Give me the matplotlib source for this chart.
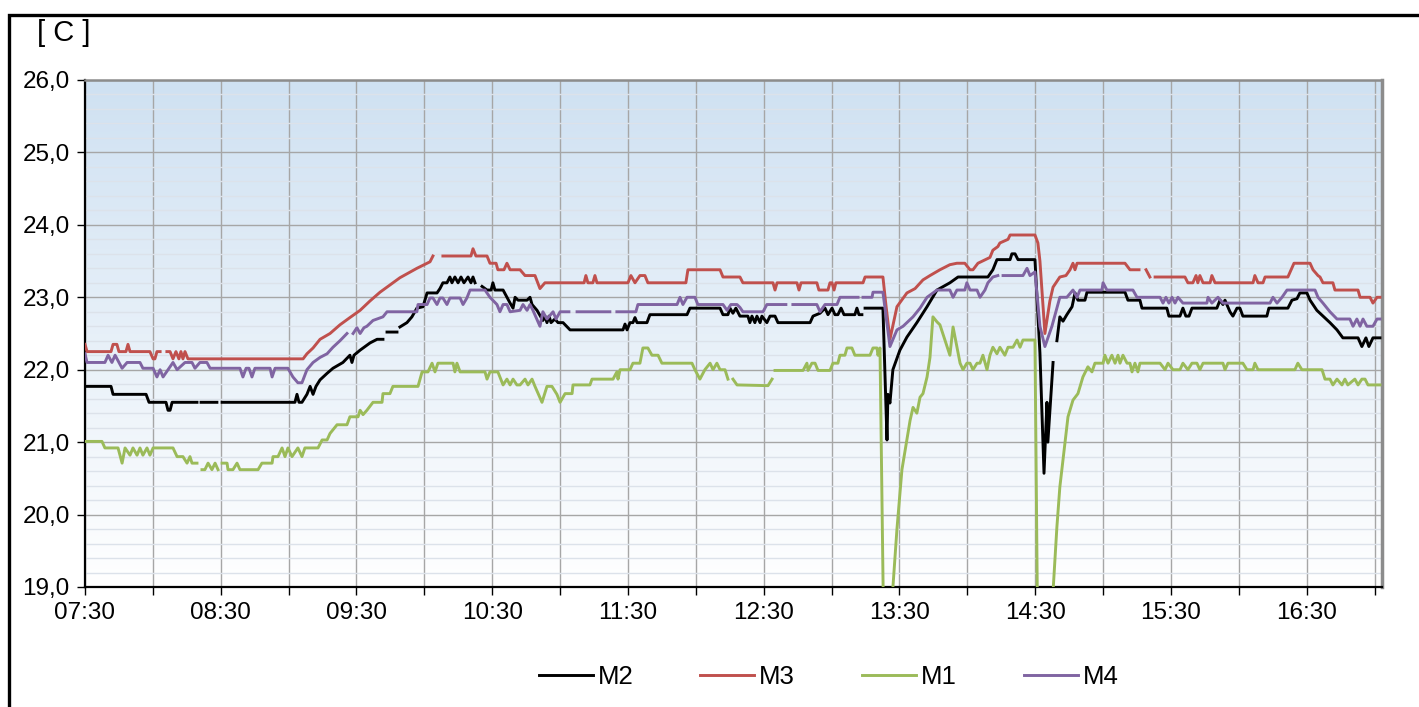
import numpy as np
import pandas as pd
import matplotlib
matplotlib.use("Agg")
import matplotlib.pyplot as plt
import matplotlib.dates as mdates
from matplotlib.ticker import FuncFormatter, MultipleLocator
from matplotlib.colors import LinearSegmentedColormap
from matplotlib.patches import Rectangle

nan = np.nan

# time axis: minutes after 07:30
start = pd.Timestamp("2000-01-01 07:30")
end_min = 573.3

# M2 (black)
m2_min = [0, 11.5, 12.4, 27.0, 28.3, 35.8, 36.7, 37.6, 38.5, 49.5, 50.5, 51.3, 58.3, 59.4, 60.6,
          92.8, 93.7, 94.6, 95.9, 98.1, 99.5, 100.8, 102.1, 103.9, 107.0, 109.6, 114.0, 117.1, 118.0,
          118.9, 121.6, 126.0, 129.1, 131.7, 133.0, 133.5, 137.9, 138.8, 139.2, 142.3, 144.5, 146.7,
          149.4, 151.2, 155.6, 156.9, 158.2, 160.0, 161.3, 162.2, 163.5, 164.9, 166.2, 167.5, 169.3,
          170.6, 171.5, 172.4, 174.5, 175.5, 177.7, 179.5, 180.3, 181.2, 184.8, 186.5, 187.9, 189.2,
          190.1, 191.4, 195.4, 196.7, 197.6, 199.8, 201.1, 202.4, 203.3, 204.2, 205.1, 206.0, 207.7,
          209.1, 211.3, 214.4, 237.8, 238.7, 239.6, 240.9, 242.2, 243.1, 244.0, 248.4, 249.7, 266.1,
          267.4, 280.7, 282.0, 284.2, 285.1, 286.4, 287.7, 289.5, 293.0, 293.9, 294.8, 296.1, 297.0,
          298.4, 299.2, 301.4, 302.8, 305.0, 306.3, 320.5, 321.8, 324.9, 327.1, 328.4, 330.2, 331.5,
          332.8, 334.2, 335.5, 340.3, 341.2, 342.1, 343.4, 344.2, 344.8, 352.7, 354.5, 354.9, 355.8,
          357.1, 360.2, 363.3, 367.7, 372.2, 376.6, 382.3, 385.9, 399.1, 401.3, 403.1, 408.9, 409.7,
          411.1, 412.4, 419.9, 422.1, 423.9, 425.2, 425.6, 427.9, 428.8, 429.6, 430.9, 432.3, 434.0,
          436.3, 437.6, 438.9, 442.0, 442.9, 459.7, 461.0, 466.3, 467.2, 478.2, 479.1, 484.0, 485.3,
          486.6, 488.0, 489.3, 500.3, 501.7, 503.0, 503.9, 506.1, 507.4, 509.2, 510.5, 511.8, 522.4,
          523.3, 531.7, 533.5, 535.7, 537.0, 540.1, 541.5, 544.5, 547.2, 550.3, 553.4, 556.0, 562.7,
          564.4, 566.2, 567.5, 569.3, 572.4]
m2_val = [21.77, 21.77, 21.66, 21.66, 21.55, 21.55, 21.44, 21.44, 21.55, 21.55, nan, 21.55, 21.55, nan, 21.55,
          21.55, 21.66, 21.55, 21.55, 21.66, 21.77, 21.66, 21.77, 21.86, 21.95, 22.02, 22.10, 22.20, 22.10,
          22.20, 22.27, 22.37, 22.42, 22.42, nan, 22.52, 22.52, nan, 22.59, 22.65, 22.73, 22.85,
          22.87, 23.06, 23.06, 23.12, 23.20, 23.20, 23.28, 23.20, 23.28, 23.20, 23.28, 23.20, 23.28,
          23.20, 23.28, 23.20, nan, 23.15, 23.10, 23.10, 23.20, 23.10, 23.10, 23.00, 22.92, 22.85,
          23.00, 22.96, 22.96, 23.00, 22.90, 22.82, 22.75, 22.68, 22.74, 22.65, 22.74, 22.65, 22.70,
          22.65, 22.65, 22.55, 22.55, 22.63, 22.55, 22.65, 22.65, 22.72, 22.65, 22.65, 22.76, 22.76,
          22.85, 22.85, 22.76, 22.76, 22.85, 22.78, 22.85, 22.74, 22.74, 22.65, 22.74, 22.65, 22.74,
          22.65, 22.74, 22.65, 22.74, 22.74, 22.65, 22.65, 22.74, 22.78, 22.85, 22.76, 22.85, 22.76,
          22.76, 22.85, 22.76, 22.76, 22.85, 22.76, 22.76, nan, 22.85, 22.85, 21.03, 21.66, 21.54,
          22.00, 22.27, 22.45, 22.65, 22.87, 23.10, 23.20, 23.28, 23.28, 23.38, 23.52, 23.52, 23.60,
          23.60, 23.52, 23.52, 22.23, 20.57, 21.55, 21.00, 22.10, nan, 22.40, 22.73, 22.67, 22.76,
          22.87, 23.06, 22.96, 22.96, 23.07, 23.07, 22.96, 22.96, 22.85, 22.85, 22.74, 22.74, 22.85,
          22.74, 22.74, 22.85, 22.85, 22.96, 22.90, 22.96, 22.80, 22.74, 22.85, 22.85, 22.74, 22.74,
          22.85, 22.85, 22.96, 22.98, 23.06, 23.06, 22.96, 22.82, 22.74, 22.65, 22.55, 22.44, 22.44,
          22.32, 22.44, 22.32, 22.44, 22.44]

# M3 (red)
m3_min = [0, 0.9, 11.5, 12.4, 14.1, 15.0, 18.1, 19.0, 19.9, 28.7, 30.1, 30.9, 31.8, 33.2, 34.5, 36.2,
          37.6, 38.9, 40.2, 41.5, 42.4, 43.3, 44.2, 45.5, 96.4, 98.1, 100.8, 103.9, 108.3, 112.7, 117.1,
          121.6, 126.0, 130.4, 134.8, 139.2, 146.7, 152.5, 153.8, 156.0, 158.2, 170.6, 171.5, 172.8,
          177.7, 179.0, 181.7, 182.5, 185.2, 186.5, 187.9, 192.3, 194.5, 198.9, 201.1, 203.3, 220.6,
          221.4, 222.3, 224.5, 225.4, 226.3, 240.0, 241.3, 243.1, 245.3, 247.5, 248.8, 265.6, 266.5,
          280.7, 282.0, 289.5, 290.8, 304.1, 305.0, 305.9, 314.7, 315.6, 316.5, 323.5, 324.4, 328.4,
          329.3, 330.2, 331.1, 331.9, 343.9, 344.8, 352.7, 354.0, 355.8, 358.9, 363.3, 366.9, 370.4,
          373.5, 377.9, 382.3, 385.4, 388.9, 391.2, 392.5, 394.7, 400.0, 401.3, 403.5, 404.4, 408.0,
          408.9, 419.9, 421.2, 422.1, 424.3, 426.5, 427.9, 430.9, 433.6, 435.4, 436.7, 437.6, 438.5,
          459.7, 461.9, 465.9, 467.5, 469.0, 470.7, 472.0, 473.0, 486.2, 487.5, 489.7, 491.1, 491.9,
          492.8, 494.2, 497.3, 498.1, 499.5, 516.3, 517.1, 518.5, 520.7, 521.6, 531.7, 533.1, 534.4,
          541.5, 542.8, 545.0, 545.9, 547.2, 551.6, 552.5, 562.7, 563.6, 568.0, 569.3, 571.1, 572.4]
m3_val = [22.35, 22.25, 22.25, 22.35, 22.35, 22.25, 22.25, 22.35, 22.25, 22.25, 22.15, 22.15, 22.25, 22.25, nan, 22.25,
          22.25, 22.15, 22.25, 22.15, 22.25, 22.15, 22.25, 22.15, 22.15, 22.22, 22.30, 22.42, 22.50, 22.62, 22.72,
          22.82, 22.95, 23.07, 23.17, 23.27, 23.40, 23.49, 23.57, nan, 23.57, 23.57, 23.67, 23.57,
          23.57, 23.47, 23.47, 23.38, 23.38, 23.47, 23.38, 23.38, 23.30, 23.30, 23.12, 23.20, 23.20,
          23.30, 23.20, 23.20, 23.30, 23.20, 23.20, 23.30, 23.20, 23.30, 23.30, 23.20, 23.20, 23.38,
          23.38, 23.28, 23.28, 23.20, 23.20, 23.10, 23.20, 23.20, 23.10, 23.20, 23.20, 23.10, 23.10,
          23.20, 23.20, 23.10, 23.20, 23.20, 23.28, 23.28, 22.90, 22.42, 22.87, 23.06, 23.12, 23.24,
          23.30, 23.38, 23.45, 23.47, 23.47, 23.38, 23.38, 23.47, 23.55, 23.65, 23.70, 23.75, 23.80,
          23.86, 23.86, 23.75, 23.50, 22.50, 22.95, 23.14, 23.28, 23.30, 23.38, 23.47, 23.38, 23.47,
          23.47, 23.38, 23.38, nan, 23.38, 23.28, nan, 23.28, 23.28, 23.20, 23.20, 23.30, 23.20,
          23.30, 23.20, 23.20, 23.30, 23.20, 23.20, 23.30, 23.20, 23.20, 23.28, 23.28, 23.38, 23.47,
          23.47, 23.38, 23.30, 23.28, 23.20, 23.20, 23.10, 23.10, 23.00, 23.00, 22.92, 23.00, 23.00]

# M1 (green)
m1_min = [0, 7.5, 8.8, 14.6, 16.4, 17.7, 19.9, 21.2, 23.0, 24.3, 25.6, 27.4, 28.7, 30.1, 38.9, 40.7,
          43.3, 45.1, 46.4, 47.3, 49.5, 50.5, 51.7, 53.0, 54.4, 56.1, 57.5, 58.8, 59.8, 60.6, 62.8,
          63.2, 65.4, 67.2, 68.5, 76.5, 78.2, 82.7, 83.1, 85.3, 87.1, 88.4, 89.7, 91.5, 94.1, 95.9,
          97.2, 103.0, 104.8, 107.0, 108.3, 111.4, 115.8, 117.1, 120.7, 121.6, 122.9, 124.6, 127.3,
          131.3, 131.7, 134.8, 136.1, 147.2, 149.0, 151.6, 153.4, 154.7, 156.0, 162.7, 163.5, 164.4,
          165.8, 176.8, 177.7, 179.0, 182.5, 184.8, 186.5, 187.9, 189.2, 190.9, 192.3, 194.5, 195.8,
          197.6, 198.9, 202.0, 204.2, 206.4, 208.6, 210.0, 212.2, 215.3, 215.7, 223.2, 224.1, 233.4,
          235.1, 235.6, 236.5, 240.9, 242.2, 245.3, 246.6, 248.8, 250.6, 253.3, 255.0, 268.3, 269.6,
          271.8, 274.0, 276.3, 277.6, 279.3, 280.7, 282.9, 284.2, 285.5, 286.4, 288.2, 301.9, 303.7,
          304.5, 305.0, 317.4, 319.1, 319.6, 321.3, 322.7, 324.0, 329.3, 330.6, 332.8, 333.7, 335.9,
          336.8, 339.0, 340.3, 347.0, 348.3, 350.1, 350.5, 351.4, 353.2, 354.9, 358.9, 361.1, 363.3,
          364.7, 366.0, 367.7, 369.1, 370.4, 372.2, 373.5, 374.8, 376.6, 377.9, 382.3, 383.7, 386.8,
          388.1, 389.8, 391.2, 392.5, 394.3, 395.6, 396.9, 398.7, 400.0, 401.3, 403.1, 404.4, 406.6,
          408.0, 410.2, 412.0, 413.3, 414.6, 419.9, 421.2, 426.1, 429.6, 430.9, 433.2, 434.5, 436.7,
          438.9, 441.1, 443.3, 445.1, 446.4, 450.0, 450.8, 452.2, 453.9, 455.3, 456.6, 457.5, 458.8,
          460.6, 461.9, 462.8, 464.1, 465.4, 466.3, 475.2, 477.4, 478.7, 480.9, 484.0, 485.3, 487.5,
          489.3, 491.5, 492.8, 494.2, 503.0, 503.9, 505.2, 511.8, 513.6, 516.3, 517.1, 518.5, 534.8,
          536.1, 537.9, 546.8, 548.1, 550.3, 551.6, 553.4, 555.6, 556.9, 558.2, 561.3, 562.7, 564.4,
          565.8, 567.1, 572.4]
m1_val = [21.01, 21.01, 20.92, 20.92, 20.71, 20.92, 20.82, 20.92, 20.82, 20.92, 20.82, 20.92, 20.82, 20.92, 20.92, 20.80,
          20.80, 20.71, 20.80, 20.71, 20.71, nan, 20.62, 20.62, 20.71, 20.62, 20.71, 20.62, nan, 20.71, 20.71,
          20.62, 20.62, 20.71, 20.62, 20.62, 20.71, 20.71, 20.80, 20.80, 20.92, 20.80, 20.92, 20.80, 20.92, 20.80,
          20.92, 20.92, 21.03, 21.03, 21.12, 21.24, 21.24, 21.35, 21.35, 21.44, 21.38, 21.44, 21.55,
          21.55, 21.67, 21.67, 21.77, 21.77, 21.97, 21.97, 22.09, 21.97, 22.09, 22.09, 21.97, 22.09,
          21.97, 21.97, 21.87, 21.97, 21.97, 21.79, 21.87, 21.79, 21.87, 21.79, 21.79, 21.87, 21.79,
          21.87, 21.77, 21.55, 21.77, 21.77, 21.66, 21.55, 21.67, 21.67, 21.79, 21.79, 21.87, 21.87,
          21.97, 21.87, 22.00, 22.00, 22.09, 22.09, 22.30, 22.30, 22.20, 22.20, 22.09, 22.09, 22.00,
          21.87, 22.00, 22.09, 22.00, 22.09, 22.00, 22.00, 21.87, nan, 21.87, 21.79, 21.78, 21.87,
          nan, 21.99, 21.99, 22.09, 21.99, 22.09, 22.09, 21.99, 21.99, 22.09, 22.09, 22.20, 22.20,
          22.30, 22.30, 22.20, 22.20, 22.30, 22.30, 22.20, 22.30, 18.00, 18.00, 19.80, 20.62, 21.03,
          21.30, 21.48, 21.40, 21.62, 21.67, 21.90, 22.17, 22.73, 22.66, 22.62, 22.20, 22.59, 22.09,
          22.00, 22.09, 22.09, 22.00, 22.09, 22.09, 22.20, 22.00, 22.20, 22.31, 22.22, 22.31, 22.20,
          22.31, 22.31, 22.41, 22.31, 22.41, 22.41, 18.00, 18.00, 19.83, 20.38, 21.00, 21.35, 21.58,
          21.67, 21.90, 22.04, 21.97, 22.09, 22.09, 22.20, 22.09, 22.20, 22.09, 22.20, 22.09, 22.20,
          22.09, 22.09, 21.97, 22.09, 21.97, 22.09, 22.09, 22.00, 22.09, 22.00, 22.00, 22.09, 22.00,
          22.09, 22.09, 22.00, 22.09, 22.09, 22.00, 22.09, 22.09, 22.00, 22.00, 22.09, 22.00, 22.00,
          22.09, 22.00, 22.00, 21.87, 21.87, 21.79, 21.87, 21.79, 21.87, 21.79, 21.87, 21.79, 21.87,
          21.87, 21.79, 21.79]

# M4 (purple)
m4_min = [0, 0.9, 8.8, 10.2, 11.9, 13.3, 16.4, 18.6, 24.3, 25.6, 30.1, 31.8, 33.2, 34.5, 36.7, 38.9,
          40.7, 44.2, 47.3, 48.6, 50.8, 53.9, 55.3, 68.5, 69.8, 71.2, 72.5, 73.8, 75.1, 81.8, 82.7,
          84.0, 89.7, 91.9, 94.1, 95.9, 98.1, 100.8, 103.9, 107.0, 109.6, 112.7, 115.8, 117.0, 118.5,
          120.2, 121.6, 123.3, 124.6, 127.3, 131.7, 133.5, 146.7, 147.2, 151.2, 152.5, 153.8, 155.6,
          156.9, 158.2, 160.0, 161.3, 165.8, 167.1, 168.8, 170.2, 176.8, 179.0, 182.1, 183.4, 184.8,
          186.5, 187.9, 192.3, 193.6, 195.4, 196.7, 198.0, 201.1, 202.4, 204.2, 206.9, 208.2, 210.0,
          213.9, 215.5, 217.5, 232.0, 233.5, 235.1, 243.5, 244.4, 261.7, 263.0, 264.3, 266.1, 269.6,
          270.9, 282.0, 283.8, 285.5, 288.2, 289.5, 290.8, 299.7, 301.4, 309.8, 311.5, 312.9, 323.5,
          324.9, 327.1, 332.4, 333.7, 341.7, 342.6, 343.9, 347.9, 348.3, 352.7, 355.8, 358.9, 361.6,
          366.0, 369.1, 372.2, 376.6, 382.3, 383.7, 385.4, 388.9, 389.8, 391.2, 394.3, 395.6, 397.8,
          399.1, 401.3, 403.5, 404.6, 405.8, 414.6, 416.4, 417.7, 419.9, 422.1, 424.3, 427.4, 430.9,
          434.0, 436.7, 438.5, 439.8, 449.5, 450.0, 451.7, 463.2, 465.0, 475.2, 476.5, 477.8, 479.1,
          480.5, 481.8, 483.1, 485.3, 495.9, 496.4, 498.1, 500.8, 503.0, 523.8, 525.1, 526.9, 529.1,
          531.3, 543.7, 545.0, 547.2, 550.3, 553.4, 559.1, 560.5, 562.2, 563.6, 564.9, 566.6, 569.3,
          571.1, 572.4]
m4_val = [22.22, 22.10, 22.10, 22.20, 22.10, 22.20, 22.02, 22.10, 22.10, 22.02, 22.02, 21.90, 22.00, 21.90, 22.00, 22.10,
          22.00, 22.10, 22.10, 22.02, 22.10, 22.10, 22.02, 22.02, 21.90, 22.02, 22.02, 21.90, 22.02, 22.02, 21.90,
          22.02, 22.02, 21.90, 21.82, 21.82, 22.00, 22.10, 22.17, 22.22, 22.31, 22.40, 22.50, nan, 22.50,
          22.58, 22.50, 22.58, 22.60, 22.68, 22.73, 22.80, 22.80, 22.90, 22.90, 22.99, 22.99, 22.90,
          22.99, 22.99, 22.90, 22.99, 22.99, 22.90, 22.99, 23.10, 23.10, 23.00, 22.90, 22.80, 22.90,
          22.90, 22.80, 22.82, 22.90, 22.82, 22.90, 22.82, 22.60, 22.80, 22.70, 22.80, 22.70, 22.80,
          22.80, nan, 22.80, 22.80, nan, 22.80, 22.80, 22.90, 22.90, 23.00, 22.90, 23.00, 23.00,
          22.90, 22.90, 22.82, 22.90, 22.90, 22.86, 22.80, 22.80, 22.90, 22.90, nan, 22.90, 22.90,
          22.80, 22.90, 22.90, 23.00, 23.00, nan, 23.00, 23.00, 23.07, 23.07, 22.32, 22.55, 22.60,
          22.73, 22.85, 23.00, 23.10, 23.10, 23.00, 23.10, 23.10, 23.20, 23.10, 23.10, 23.00, 23.10,
          23.20, 23.28, 23.30, nan, 23.30, 23.30, 23.40, 23.30, 23.35, 22.60, 22.32, 22.60, 23.00,
          23.00, 23.10, 23.00, 23.10, 23.10, 23.20, 23.10, 23.10, 23.00, 23.00, 22.92, 23.00, 22.92,
          23.00, 22.92, 23.00, 22.92, 22.92, 23.00, 22.92, 23.00, 22.92, 22.92, 23.00, 22.92, 23.00,
          23.10, 23.10, 23.00, 22.92, 22.80, 22.70, 22.70, 22.60, 22.70, 22.60, 22.70, 22.60, 22.60,
          22.70, 22.70]

names = ["M2", "M3", "M1", "M4"]
colors = ["#000000", "#C0504D", "#9BBB59", "#8064A2"]
minutes = [m2_min, m3_min, m1_min, m4_min]
values = [m2_val, m3_val, m1_val, m4_val]

plt.rcParams['font.family'] = ['Liberation Sans', 'DejaVu Sans']

fig = plt.figure(figsize=(14.19, 7.07), dpi=100)
ax = fig.add_axes([85 / 1419, 1 - 587 / 707, 1297 / 1419, 507 / 707])

# gradient background
bg = LinearSegmentedColormap.from_list("bg", ["#FFFFFF", "#CFE1F2"])
ax.imshow(np.linspace(0, 1, 256).reshape(-1, 1), cmap=bg, origin="lower",
          extent=[0, 1, 0, 1], transform=ax.transAxes, aspect="auto", zorder=0)

for name, col, mins, vals in zip(names, colors, minutes, values):
    t = start + pd.to_timedelta(mins, unit="min")
    ax.plot(t, vals, color=col, lw=2.1, label=name, zorder=3)

ax.set_xlim(start, start + pd.Timedelta(minutes=end_min))
ax.set_ylim(19, 26)

ax.xaxis.set_major_locator(mdates.MinuteLocator(byminute=[30]))
ax.xaxis.set_minor_locator(mdates.MinuteLocator(byminute=[0]))
ax.xaxis.set_major_formatter(mdates.DateFormatter("%H:%M"))
ax.yaxis.set_major_locator(MultipleLocator(1))
ax.yaxis.set_minor_locator(MultipleLocator(0.2))
ax.yaxis.set_major_formatter(FuncFormatter(lambda v, p: f"{v:.1f}".replace(".", ",")))

ax.grid(which="major", color="#A6A6A6", lw=1, zorder=1)
ax.xaxis.grid(True, which="minor", color="#A6A6A6", lw=1)
ax.yaxis.grid(True, which="minor", color="#DCE2EA", lw=1)
ax.set_axisbelow(True)

ax.tick_params(axis="x", which="both", direction="out", length=6, width=1, colors="#000000",
               labelsize=17.5, pad=5)
ax.tick_params(axis="y", which="major", direction="out", length=6, width=1, labelsize=17.5, pad=5)
ax.tick_params(axis="y", which="minor", length=0)

ax.spines["left"].set_color("#000000")
ax.spines["left"].set_linewidth(1.6)
ax.spines["bottom"].set_color("#000000")
ax.spines["bottom"].set_linewidth(1.6)
ax.spines["top"].set_color("#8C8C8C")
ax.spines["top"].set_linewidth(1.8)
ax.spines["right"].set_color("#8C8C8C")
ax.spines["right"].set_linewidth(2.5)

fig.text(37 / 1419, 1 - 33 / 707, "[ C ]", fontsize=21, va="center", ha="left")

fig.legend(loc="center", bbox_to_anchor=(0.584, 1 - 677 / 707), ncol=4, frameon=False,
           fontsize=18.5, handlelength=2.1, handletextpad=0.2, columnspacing=2.6)

# outer frame
fig.add_artist(Rectangle((9 / 1419, -0.2), 1.2, 1.2 - 15 / 707, transform=fig.transFigure,
                         fill=False, ec="#000000", lw=2.4))

fig.savefig("out.png", dpi=100)
